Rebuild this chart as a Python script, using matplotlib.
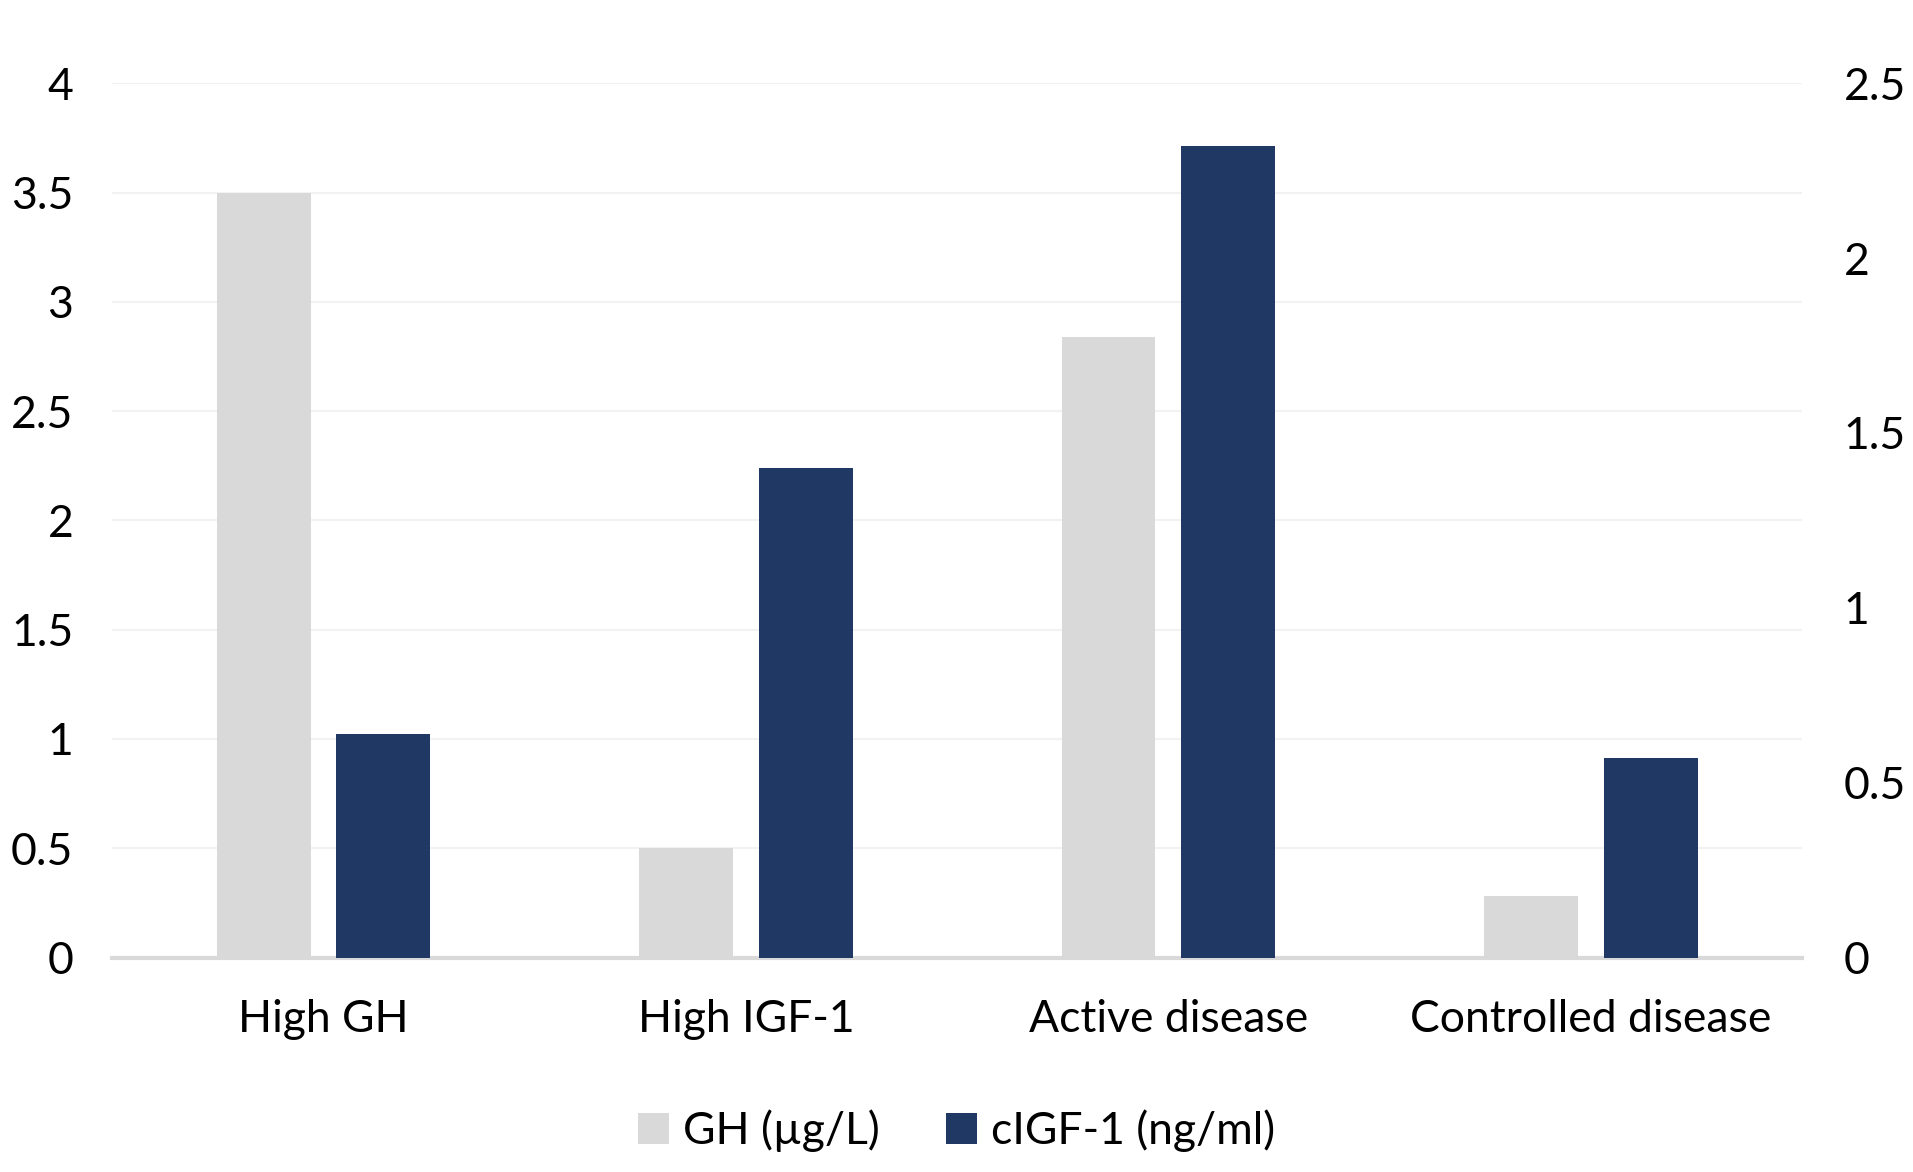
import matplotlib
matplotlib.use("Agg")
import matplotlib.pyplot as plt
import numpy as np

categories = ["High GH", "High IGF-1", "Active disease", "Controlled disease"]
gh_values = [3.5, 0.5, 2.84, 0.28]
igf_values = [0.64, 1.40, 2.32, 0.57]
left_ticks = [0, 0.5, 1, 1.5, 2, 2.5, 3, 3.5, 4]
left_labels = ["0", "0.5", "1", "1.5", "2", "2.5", "3", "3.5", "4"]
right_ticks = [0, 0.5, 1, 1.5, 2, 2.5]
right_labels = ["0", "0.5", "1", "1.5", "2", "2.5"]
series_names = ["GH (\u00b5g/L)", "cIGF-1 (ng/ml)"]

plt.rcParams['font.family'] = ['Lato', 'DejaVu Sans']
FS = 32

fig = plt.figure(figsize=(19.13, 11.72), dpi=100)
ax = fig.add_axes([0.0587, 0.183, 0.8833, 0.746])
ax2 = ax.twinx()

x = np.arange(len(categories))
w = 0.222
off = 0.1416
b1 = ax.bar(x - off, gh_values, w, color="#D9D9D9", zorder=3, label=series_names[0])
b2 = ax2.bar(x + off, igf_values, w, color="#203864", zorder=3, label=series_names[1])

ax.set_xlim(-0.5, 3.5)
ax.set_ylim(0, 4)
ax2.set_ylim(0, 2.5)
ax.set_yticks(left_ticks)
ax.set_yticklabels(left_labels)
ax2.set_yticks(right_ticks)
ax2.set_yticklabels(right_labels)
ax.set_xticks(x)
ax.set_xticklabels(categories)

ax.grid(axis="y", color="#F2F2F2", linewidth=1.5, zorder=0)
ax.set_axisbelow(True)
for a in (ax, ax2):
    for s in ["top", "right", "left", "bottom"]:
        a.spines[s].set_visible(False)
ax.spines["bottom"].set_visible(True)
ax.spines["bottom"].set_color("#D9D9D9")
ax.spines["bottom"].set_linewidth(3)
ax.spines["bottom"].set_zorder(5)

ax.tick_params(axis="y", length=0, labelsize=FS, pad=28)
ax.tick_params(axis="x", length=0, labelsize=FS, pad=30)
ax2.tick_params(axis="y", length=0, labelsize=FS, pad=30)
ax2.tick_params(axis="x", length=0)

fig.legend(handles=[b1, b2], labels=series_names, loc="center",
           bbox_to_anchor=(0.5, 0.035), ncol=2, frameon=False, fontsize=FS,
           handlelength=0.7, handleheight=0.7, handletextpad=0.3, columnspacing=1.5)

fig.savefig("out.png", dpi=100)
